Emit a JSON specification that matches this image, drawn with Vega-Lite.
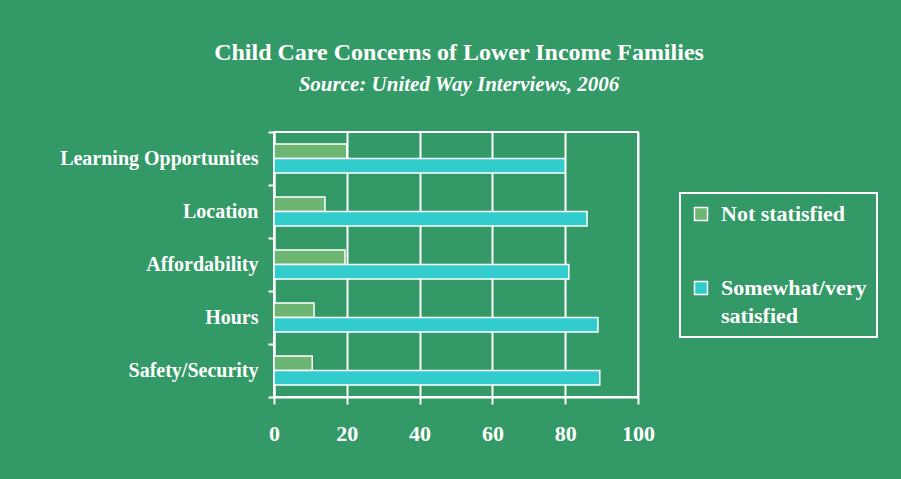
{
  "$schema": "https://vega.github.io/schema/vega-lite/v6.json",
  "autosize": "none",
  "width": 364,
  "height": 265,
  "padding": {"left": 274, "top": 132, "right": 263, "bottom": 82},
  "background": "#339966",
  "title": {
    "text": "Child Care Concerns of Lower Income Families",
    "subtitle": "Source: United Way Interviews, 2006",
    "anchor": "middle",
    "frame": "group",
    "dx": 3,
    "offset": 27,
    "color": "white",
    "font": "Liberation Serif",
    "fontSize": 24,
    "fontWeight": "bold",
    "subtitleColor": "white",
    "subtitleFont": "Liberation Serif",
    "subtitleFontSize": 21,
    "subtitleFontWeight": "bold",
    "subtitleFontStyle": "italic",
    "subtitlePadding": 9
  },
  "data": {
    "values": [
      {"concern": "Learning Opportunites", "rating": "Not statisfied", "percent": 20},
      {"concern": "Learning Opportunites", "rating": "Somewhat/very satisfied", "percent": 80},
      {"concern": "Location", "rating": "Not statisfied", "percent": 14},
      {"concern": "Location", "rating": "Somewhat/very satisfied", "percent": 86},
      {"concern": "Affordability", "rating": "Not statisfied", "percent": 19.5},
      {"concern": "Affordability", "rating": "Somewhat/very satisfied", "percent": 81},
      {"concern": "Hours", "rating": "Not statisfied", "percent": 11},
      {"concern": "Hours", "rating": "Somewhat/very satisfied", "percent": 89},
      {"concern": "Safety/Security", "rating": "Not statisfied", "percent": 10.5},
      {"concern": "Safety/Security", "rating": "Somewhat/very satisfied", "percent": 89.5}
    ]
  },
  "mark": {"type": "bar", "stroke": "white", "strokeWidth": 1.5, "opacity": 1},
  "encoding": {
    "y": {
      "field": "concern",
      "type": "nominal",
      "sort": ["Learning Opportunites", "Location", "Affordability", "Hours", "Safety/Security"],
      "scale": {"paddingInner": 0, "paddingOuter": 0},
      "axis": {
        "title": null,
        "tickBand": "extent",
        "domainColor": "white",
        "domainWidth": 2,
        "tickColor": "white",
        "tickWidth": 2,
        "tickSize": 6,
        "labelColor": "white",
        "labelFont": "Liberation Serif",
        "labelFontSize": 20,
        "labelFontWeight": "bold",
        "labelPadding": 10,
        "labelLimit": 300,
        "grid": false
      }
    },
    "yOffset": {
      "field": "rating",
      "type": "nominal",
      "sort": ["Not statisfied", "Somewhat/very satisfied"],
      "scale": {"paddingOuter": 0.83, "paddingInner": 0}
    },
    "x": {
      "field": "percent",
      "type": "quantitative",
      "scale": {"domain": [0, 100], "nice": false},
      "axis": {
        "title": null,
        "values": [0, 20, 40, 60, 80, 100],
        "grid": true,
        "gridColor": "white",
        "gridWidth": 2,
        "gridOpacity": 1,
        "domainColor": "white",
        "domainWidth": 2,
        "tickColor": "white",
        "tickWidth": 2,
        "tickSize": 7,
        "labelColor": "white",
        "labelFont": "Liberation Serif",
        "labelFontSize": 22,
        "labelFontWeight": "bold",
        "labelPadding": 19,
        "labelFlush": false
      }
    },
    "color": {
      "field": "rating",
      "type": "nominal",
      "sort": ["Not statisfied", "Somewhat/very satisfied"],
      "scale": {"domain": ["Not statisfied", "Somewhat/very satisfied"], "range": ["#6DB572", "#33CCCC"]},
      "legend": {
        "title": null,
        "orient": "none",
        "legendX": 406,
        "legendY": 61,
        "strokeColor": "white",
        "padding": 10,
        "symbolType": "square",
        "symbolSize": 169,
        "symbolStrokeColor": "white",
        "symbolStrokeWidth": 1.5,
        "symbolOpacity": 1,
        "labelColor": "white",
        "labelFont": "Liberation Serif",
        "labelFontSize": 22,
        "labelFontWeight": "bold",
        "labelBaseline": "alphabetic",
        "labelOffset": 9,
        "labelLimit": 300,
        "rowPadding": 52,
        "labelExpr": "datum.label == 'Somewhat/very satisfied' ? ['Somewhat/very', 'satisfied'] : datum.label",
        "encode": {
          "labels": {"update": {"dy": {"value": 7}, "lineHeight": {"value": 28}}},
          "legend": {"update": {"strokeWidth": {"value": 2}}}
        }
      }
    }
  },
  "config": {
    "view": {"stroke": "white", "strokeWidth": 2}
  }
}
